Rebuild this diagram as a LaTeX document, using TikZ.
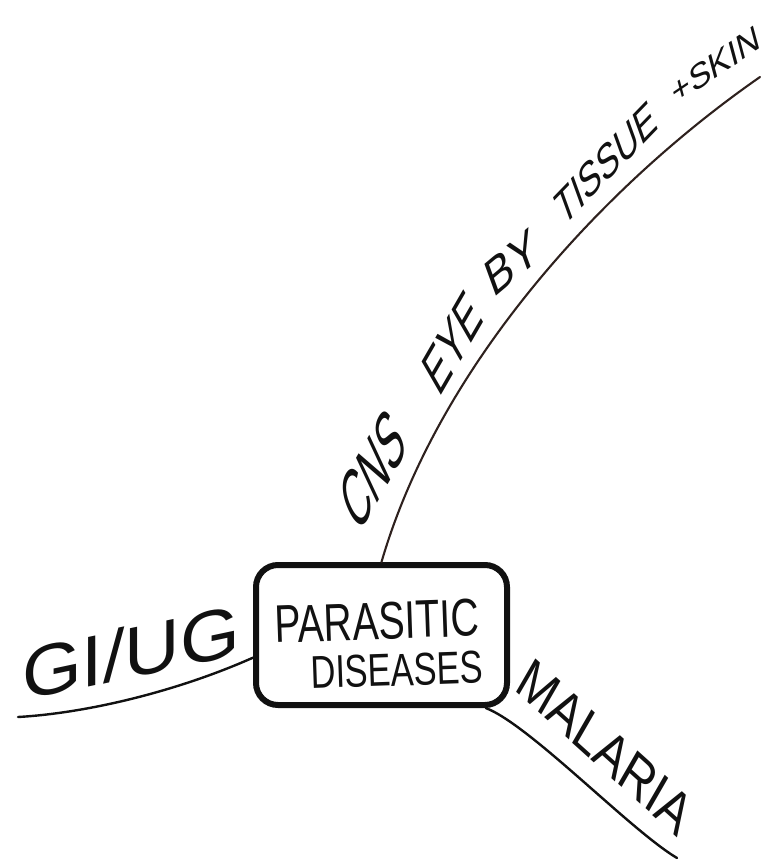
\documentclass[tikz,border=0pt]{standalone}
\usepackage{fontspec}
\setmainfont{Liberation Sans}
\definecolor{ink}{HTML}{111111}
\definecolor{brownink}{HTML}{2E211E}
\begin{document}
\begin{tikzpicture}[x=1pt,y=-1pt,
  hw/.style={inner sep=0pt, anchor=center, text=ink},
  conn/.style={draw=ink, line width=2.4pt, line cap=round},
  hubbox/.style={draw=ink, line width=6pt, rounded corners=22pt,
     minimum width=251pt, minimum height=140pt, inner sep=0pt}]
\useasboundingbox (0,0) rectangle (776,867);
% central box
\node[hubbox] (hub) at (381.5,635) {};
\node[hw, font=\fontsize{53}{53}\selectfont, cm={0.74,0.026,-0.035,0.999,(0,0)}] (parasitic) at (377,621) {PARASITIC};
\node[hw, font=\fontsize{46}{46}\selectfont, cm={0.75,0.026,-0.035,0.999,(0,0)}] (diseases) at (397,670) {DISEASES};
% connector ends
\coordinate (cnsend) at (760,77);
\coordinate (giend) at (18,717);
\coordinate (malend) at (677,858);
% connectors
\draw[conn, draw=brownink, line width=2.1pt] (hub.north) .. controls (437,371) and (596,191) .. (cnsend);
\draw[conn] (hub.190) .. controls (178,691) and (88,713) .. (giend);
\draw[conn] (hub.-35) .. controls (530,725) and (630,830) .. (malend);
% CNS branch labels
\node[hw, font=\fontsize{72}{72}\selectfont, cm={0.33,0.572,-0.423,0.906,(0,0)}] (cns) at (373,470) {CNS};
\node[hw, font=\fontsize{56}{56}\selectfont, cm={0.4,0.693,-0.5,0.866,(0,0)}] (eye) at (452,343) {EYE};
\node[hw, font=\fontsize{49}{49}\selectfont, cm={0.728,0.611,-0.342,0.940,(0,0)}] (by) at (512,263) {BY};
\node[hw, font=\fontsize{45}{45}\selectfont, cm={0.590,0.611,-0.342,0.940,(0,0)}] (tissue) at (606,163) {TISSUE};
\node[hw, font=\fontsize{34}{34}\selectfont, cm={0.870,0.587,-0.259,0.966,(0,0)}] (skin) at (716,65) {+SKIN};
% GI/UG label
\node[hw, font=\fontsize{72}{72}\selectfont, cm={1.066,0.227,0,1,(0,0)}] (giug) at (131,652) {GI/UG};
% MALARIA label
\node[hw, font=\fontsize{56}{56}\selectfont, cm={0.669,-0.602,0.5,0.866,(0,0)}] (malaria) at (605,747) {MALARIA};
\end{tikzpicture}
\end{document}
